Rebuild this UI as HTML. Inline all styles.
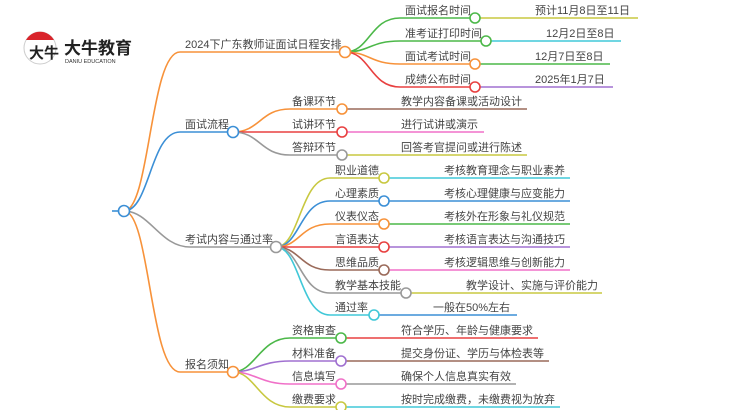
<!DOCTYPE html>
<html><head><meta charset="utf-8"><style>
body{margin:0;background:#fff;width:750px;height:410px;overflow:hidden}
svg{font-family:"Liberation Sans","Noto Sans CJK SC",sans-serif}
text{font-size:11px;fill:#444}
path{fill:none;stroke-width:1.6}
circle{fill:#fff;stroke-width:1.6}
</style></head><body>
<svg width="750" height="410" viewBox="0 0 750 410" xmlns="http://www.w3.org/2000/svg">
<!-- logo -->
<circle cx="40" cy="48" r="16" style="stroke:#ccc;stroke-width:1"/>
<path d="M26 40 A16 16 0 0 1 54 40 Z" style="fill:#d9242b;stroke:none"/>
<text x="29" y="58" style="font-size:15px;fill:#222;font-weight:bold">大牛</text>
<text x="64" y="54" style="font-size:17px;font-weight:bold;fill:#222">大牛教育</text>
<text x="65" y="63" style="font-size:5.5px;fill:#333">DANIU EDUCATION</text>

<!-- root -->
<path d="M112 211 H124" stroke="#3b8fd6"/>
<path d="M124 211 C150 211 150 52 180 52 H345" stroke="#f7923a"/>
<path d="M124 211 C150 211 150 132 180 132 H233" stroke="#3b8fd6"/>
<path d="M124 211 C150 211 160 247 190 247 H276" stroke="#999"/>
<path d="M124 211 C150 211 150 372 180 372 H233" stroke="#f7923a"/>
<text x="185" y="48">2024下广东教师证面试日程安排</text>
<text x="185" y="128">面试流程</text>
<text x="185" y="243">考试内容与通过率</text>
<text x="185" y="368">报名须知</text>

<path d="M345 52 C370 52 370 18 400 18 H475" stroke="#4cb849"/>
<path d="M345 52 C370 52 370 41 400 41 H486" stroke="#4cb849"/>
<path d="M345 52 C370 52 370 64 400 64 H475" stroke="#f7923a"/>
<path d="M345 52 C370 52 370 87 400 87 H475" stroke="#e84040"/>
<path d="M475 18 H638" stroke="#c8c840"/>
<path d="M486 41 H621" stroke="#40c8d8"/>
<path d="M475 64 H610" stroke="#4cb849"/>
<path d="M475 87 H613" stroke="#a070d0"/>
<text x="405" y="14">面试报名时间</text>
<text x="405" y="37">准考证打印时间</text>
<text x="405" y="60">面试考试时间</text>
<text x="405" y="83">成绩公布时间</text>
<text x="535" y="14">预计11月8日至11日</text>
<text x="546" y="37">12月2日至8日</text>
<text x="535" y="60">12月7日至8日</text>
<text x="535" y="83">2025年1月7日</text>
<circle cx="475" cy="18" r="5" stroke="#4cb849"/>
<circle cx="486" cy="41" r="5" stroke="#4cb849"/>
<circle cx="475" cy="64" r="5" stroke="#f7923a"/>
<circle cx="475" cy="87" r="5" stroke="#e84040"/>

<path d="M233 132 C260 132 260 109 290 109 H342" stroke="#f7923a"/>
<path d="M233 132 H342" stroke="#e84040"/>
<path d="M233 132 C260 132 260 155 290 155 H342" stroke="#999"/>
<path d="M342 109 H527" stroke="#9a6a5a"/>
<path d="M342 132 H484" stroke="#f070c8"/>
<path d="M342 155 H527" stroke="#c8c840"/>
<text x="292" y="105">备课环节</text>
<text x="292" y="128">试讲环节</text>
<text x="292" y="151">答辩环节</text>
<text x="401" y="105">教学内容备课或活动设计</text>
<text x="401" y="128">进行试讲或演示</text>
<text x="401" y="151">回答考官提问或进行陈述</text>
<circle cx="342" cy="109" r="5" stroke="#f7923a"/>
<circle cx="342" cy="132" r="5" stroke="#e84040"/>
<circle cx="342" cy="155" r="5" stroke="#999"/>

<path d="M276 247 C300 247 300 178 330 178 H384" stroke="#c8c840"/>
<path d="M276 247 C300 247 300 201 330 201 H384" stroke="#3b8fd6"/>
<path d="M276 247 C300 247 300 224 330 224 H384" stroke="#f7923a"/>
<path d="M276 247 H384" stroke="#e84040"/>
<path d="M276 247 C300 247 300 270 330 270 H384" stroke="#9a6a5a"/>
<path d="M276 247 C300 247 300 293 330 293 H406" stroke="#999"/>
<path d="M276 247 C300 247 300 315 330 315 H374" stroke="#40c8d8"/>
<path d="M384 178 H570" stroke="#40c8d8"/>
<path d="M384 201 H570" stroke="#3b8fd6"/>
<path d="M384 224 H570" stroke="#4cb849"/>
<path d="M384 247 H570" stroke="#a070d0"/>
<path d="M384 270 H570" stroke="#f070c8"/>
<path d="M406 293 H602" stroke="#c8c840"/>
<path d="M374 315 H517" stroke="#3b8fd6"/>
<text x="335" y="174">职业道德</text>
<text x="335" y="197">心理素质</text>
<text x="335" y="220">仪表仪态</text>
<text x="335" y="243">言语表达</text>
<text x="335" y="266">思维品质</text>
<text x="335" y="289">教学基本技能</text>
<text x="335" y="311">通过率</text>
<text x="444" y="174">考核教育理念与职业素养</text>
<text x="444" y="197">考核心理健康与应变能力</text>
<text x="444" y="220">考核外在形象与礼仪规范</text>
<text x="444" y="243">考核语言表达与沟通技巧</text>
<text x="444" y="266">考核逻辑思维与创新能力</text>
<text x="466" y="289">教学设计、实施与评价能力</text>
<text x="433" y="311">一般在50%左右</text>
<circle cx="384" cy="178" r="5" stroke="#c8c840"/>
<circle cx="384" cy="201" r="5" stroke="#3b8fd6"/>
<circle cx="384" cy="224" r="5" stroke="#f7923a"/>
<circle cx="384" cy="247" r="5" stroke="#e84040"/>
<circle cx="384" cy="270" r="5" stroke="#9a6a5a"/>
<circle cx="406" cy="293" r="5" stroke="#999"/>
<circle cx="374" cy="315" r="5" stroke="#40c8d8"/>

<path d="M233 372 C255 372 260 338 290 338 H341" stroke="#4cb849"/>
<path d="M233 372 C255 372 260 361 290 361 H341" stroke="#a070d0"/>
<path d="M233 372 C255 372 260 384 290 384 H341" stroke="#f070c8"/>
<path d="M233 372 C255 372 260 407 290 407 H341" stroke="#c8c840"/>
<path d="M341 338 H538" stroke="#e84040"/>
<path d="M341 361 H549" stroke="#9a6a5a"/>
<path d="M341 384 H516" stroke="#999"/>
<path d="M341 407 H560" stroke="#40c8d8"/>
<text x="292" y="334">资格审查</text>
<text x="292" y="357">材料准备</text>
<text x="292" y="380">信息填写</text>
<text x="292" y="403">缴费要求</text>
<text x="401" y="334">符合学历、年龄与健康要求</text>
<text x="401" y="357">提交身份证、学历与体检表等</text>
<text x="401" y="380">确保个人信息真实有效</text>
<text x="401" y="403">按时完成缴费，未缴费视为放弃</text>
<circle cx="341" cy="338" r="5" stroke="#4cb849"/>
<circle cx="341" cy="361" r="5" stroke="#a070d0"/>
<circle cx="341" cy="384" r="5" stroke="#f070c8"/>
<circle cx="341" cy="407" r="5" stroke="#c8c840"/>

<circle cx="345" cy="52" r="5.5" stroke="#f7923a"/>
<circle cx="233" cy="132" r="5.5" stroke="#3b8fd6"/>
<circle cx="276" cy="247" r="5.5" stroke="#999"/>
<circle cx="233" cy="372" r="5.5" stroke="#f7923a"/>
<circle cx="124" cy="211" r="5.5" stroke="#3b8fd6"/>
</svg>
</body></html>
